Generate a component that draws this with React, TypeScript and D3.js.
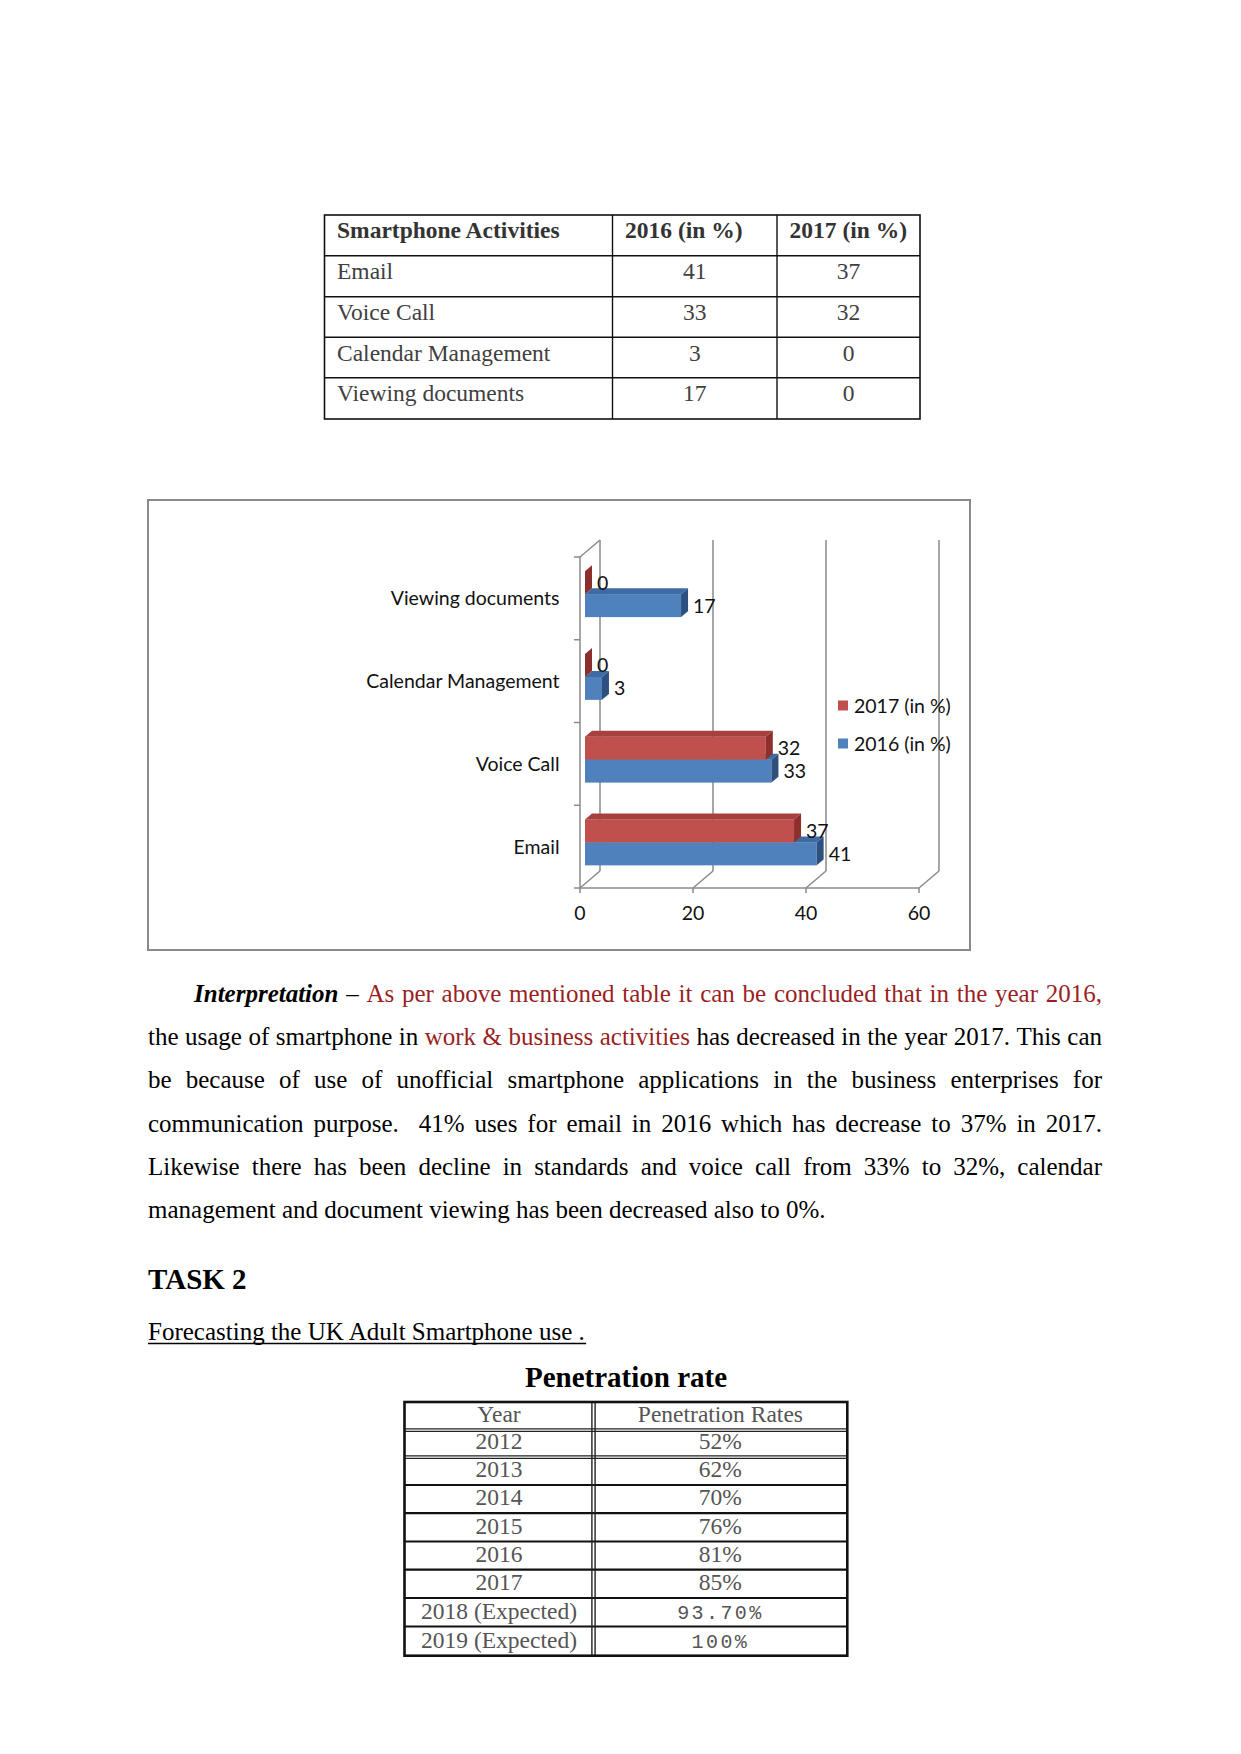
import React from "react";
import * as d3 from "d3";

// ---------- data ----------
const activities = ["Email", "Voice Call", "Calendar Management", "Viewing documents"];
const values2016 = [41, 33, 3, 17];
const values2017 = [37, 32, 0, 0];
const seriesNames = ["2017 (in %)", "2016 (in %)"];
const xTicks = [0, 20, 40, 60];
const tableHeader = ["Smartphone Activities", "2016 (in %)", "2017 (in %)"];

const years = ["2012", "2013", "2014", "2015", "2016", "2017", "2018 (Expected)", "2019 (Expected)"];
const rates = ["52%", "62%", "70%", "76%", "81%", "85%", "93.70%", "100%"];

const RED = "#9A1F1F";
type Seg = { t: string; c?: string; f?: string };
const paraLines: Seg[][] = [
  [
    { t: "Interpretation", f: "bi" },
    { t: " – " },
    { t: "As per above mentioned table it can be concluded that in the year 2016,", c: RED },
  ],
  [
    { t: "the usage of smartphone in " },
    { t: "work & business activities", c: RED },
    { t: " has decreased in the year 2017. This can" },
  ],
  [{ t: "be because of use of unofficial smartphone applications in the business enterprises for" }],
  [{ t: "communication purpose.  41% uses for email in 2016 which has decrease to 37% in 2017." }],
  [{ t: "Likewise there has been decline in standards and voice call from 33% to 32%, calendar" }],
  [{ t: "management and document viewing has been decreased also to 0%." }],
];

const SERIF = "'Liberation Serif', 'Times New Roman', serif";
const SANS = "Lato, 'Open Sans', sans-serif";

let _ctx: CanvasRenderingContext2D | null = null;
function measure(text: string, font: string) {
  if (!_ctx) _ctx = document.createElement("canvas").getContext("2d");
  _ctx!.font = font;
  return _ctx!.measureText(text).width;
}

function Paragraph() {
  const size = 25;
  const left = 148;
  const right = 1102;
  const firstIndent = 194;
  const base0 = 1001.7;
  const lh = 43.3;
  const out: JSX.Element[] = [];
  paraLines.forEach((segs, li) => {
    const words: { t: string; c: string; f: string }[] = [];
    segs.forEach((s) => {
      const parts = s.t.split(" ");
      parts.forEach((p, i) => {
        if (i > 0) words.push({ t: " ", c: "", f: "" });
        if (p.length) words.push({ t: p, c: s.c || "#000", f: s.f || "" });
      });
    });
    const fontOf = (f: string) => `${f === "bi" ? "italic bold " : ""}${size}px ${SERIF}`;
    const x0 = li === 0 ? firstIndent : left;
    const justify = li < paraLines.length - 1;
    let wordsW = 0;
    let gaps = 0;
    words.forEach((w) => {
      if (w.t === " ") gaps++;
      else wordsW += measure(w.t, fontOf(w.f));
    });
    const spaceW = measure(" ", fontOf(""));
    const gapW = justify ? (right - x0 - wordsW) / gaps : spaceW;
    let x = x0;
    const y = base0 + li * lh;
    words.forEach((w, wi) => {
      if (w.t === " ") {
        x += gapW;
        return;
      }
      out.push(
        <text
          key={`${li}-${wi}`}
          x={x}
          y={y}
          fontFamily={SERIF}
          fontSize={size}
          fontStyle={w.f === "bi" ? "italic" : "normal"}
          fontWeight={w.f === "bi" ? "bold" : "normal"}
          fill={w.c}
        >
          {w.t}
        </text>
      );
      x += measure(w.t, fontOf(w.f));
    });
  });
  return <g>{out}</g>;
}

function Table1() {
  const xs = [324.5, 612.5, 777, 920];
  const ys = [215, 255.7, 296.7, 337.3, 377.7, 419];
  const rows = activities.map((a, i) => [a, String(values2016[i]), String(values2017[i])]);
  const txt = "#404040";
  return (
    <g>
      <rect x={xs[0]} y={ys[0]} width={xs[3] - xs[0]} height={ys[5] - ys[0]} fill="none" stroke="#111" strokeWidth={1.6} />
      {ys.slice(1, -1).map((y, i) => (
        <line key={"h" + i} x1={xs[0]} x2={xs[3]} y1={y} y2={y} stroke="#111" strokeWidth={1.4} />
      ))}
      {xs.slice(1, -1).map((x, i) => (
        <line key={"v" + i} x1={x} x2={x} y1={ys[0]} y2={ys[5]} stroke="#111" strokeWidth={1.4} />
      ))}
      {tableHeader.map((h, i) => (
        <text key={"th" + i} x={xs[i] + 12.5} y={238} fontFamily={SERIF} fontSize={23.5} fontWeight="bold" fill="#333">
          {h}
        </text>
      ))}
      {rows.map((r, ri) => (
        <g key={"r" + ri}>
          <text x={xs[0] + 12.5} y={ys[ri + 1] + 23.5} fontFamily={SERIF} fontSize={23.5} fill={txt}>
            {r[0]}
          </text>
          <text x={(xs[1] + xs[2]) / 2} y={ys[ri + 1] + 23.5} textAnchor="middle" fontFamily={SERIF} fontSize={23.5} fill={txt}>
            {r[1]}
          </text>
          <text x={(xs[2] + xs[3]) / 2} y={ys[ri + 1] + 23.5} textAnchor="middle" fontFamily={SERIF} fontSize={23.5} fill={txt}>
            {r[2]}
          </text>
        </g>
      ))}
    </g>
  );
}

function BarChart() {
  const D = { x: 20, y: -17 }; // full depth vector
  const fb = 0.25;
  const fd = 0.35;
  const x = d3.scaleLinear().domain([0, 60]).range([580, 919]);
  const yOrder = activities.slice().reverse();
  const y = d3.scaleBand<string>().domain(yOrder).range([557, 888]).padding(0);
  const inner = d3.scaleBand<string>().domain(seriesNames).range([0, y.bandwidth()]).paddingInner(0).paddingOuter(0.8);
  const grid = "#8a8a8a";
  const colors = {
    "2017 (in %)": { front: "#C0504D", top: "#A7413E", side: "#8C2F2D" },
    "2016 (in %)": { front: "#4F81BD", top: "#3E6BA4", side: "#2D507E" },
  } as Record<string, { front: string; top: string; side: string }>;
  const bdx = D.x * fd;
  const bdy = D.y * fd;
  const ox = D.x * fb;
  const oy = D.y * fb;
  const fs = 19.5;

  const bars: JSX.Element[] = [];
  const labels: JSX.Element[] = [];
  activities.forEach((a, ai) => {
    ["2016 (in %)", "2017 (in %)"].forEach((s) => {
      const v = s === "2016 (in %)" ? values2016[ai] : values2017[ai];
      const c = colors[s];
      const x0 = x(0) + ox;
      const x1 = x(v) + ox;
      const y0 = (y(a) as number) + (inner(s) as number) + oy;
      const h = inner.bandwidth();
      const y1 = y0 + h;
      const key = `${ai}-${s}`;
      if (v > 0) {
        bars.push(<rect key={key + "f"} x={x0} y={y0} width={x1 - x0} height={h} fill={c.front} />);
        bars.push(
          <path
            key={key + "t"}
            d={`M${x0},${y0}L${x1},${y0}L${x1 + bdx},${y0 + bdy}L${x0 + bdx},${y0 + bdy}Z`}
            fill={c.top}
          />
        );
      }
      bars.push(
        <path
          key={key + "s"}
          d={`M${x1},${y0}L${x1 + bdx},${y0 + bdy}L${x1 + bdx},${y1 + bdy}L${x1},${y1}Z`}
          fill={c.side}
        />
      );
      labels.push(
        <text key={key + "l"} x={x1 + bdx + 5} y={(y0 + y1) / 2 + 7} fontFamily={SANS} fontSize={fs} fill="#111">
          {v}
        </text>
      );
    });
  });

  const yTop = 557;
  const yBot = 888;
  return (
    <g>
      <rect x={148} y={500} width={822} height={450} fill="#fff" stroke="#8a8a8a" strokeWidth={2} />
      {xTicks.map((t) => (
        <g key={"g" + t}>
          <line x1={x(t) + D.x} x2={x(t) + D.x} y1={yTop + D.y} y2={yBot + D.y} stroke={grid} strokeWidth={1.5} />
          <line x1={x(t)} x2={x(t) + D.x} y1={yBot} y2={yBot + D.y} stroke={grid} strokeWidth={1.5} />
          <line x1={x(t)} x2={x(t)} y1={yBot} y2={yBot + 5} stroke={grid} strokeWidth={1.5} />
          <text x={x(t)} y={920} textAnchor="middle" fontFamily={SANS} fontSize={fs} fill="#111">
            {t}
          </text>
        </g>
      ))}
      <line x1={x(0)} x2={x(0)} y1={yTop} y2={yBot} stroke={grid} strokeWidth={1.5} />
      <line x1={x(0)} x2={x(0) + D.x} y1={yTop} y2={yTop + D.y} stroke={grid} strokeWidth={1.5} />
      <line x1={x(0)} x2={x(60)} y1={yBot} y2={yBot} stroke={grid} strokeWidth={1.5} />
      {[0, 1, 2, 3, 4].map((i) => (
        <line
          key={"ct" + i}
          x1={x(0) - 6}
          x2={x(0)}
          y1={yTop + i * y.bandwidth()}
          y2={yTop + i * y.bandwidth()}
          stroke={grid}
          strokeWidth={1.5}
        />
      ))}
      {activities.map((a) => (
        <text
          key={"cl" + a}
          x={559.5}
          y={(y(a) as number) + y.bandwidth() / 2 + 7}
          textAnchor="end"
          fontFamily={SANS}
          fontSize={fs}
          fill="#111"
        >
          {a}
        </text>
      ))}
      {bars}
      {labels}
      {seriesNames.map((s, i) => (
        <g key={"lg" + s}>
          <rect x={838} y={700.5 + i * 38} width={10} height={10} fill={colors[s].front} />
          <text x={854} y={712.5 + i * 38} fontFamily={SANS} fontSize={fs} fill="#111">
            {s}
          </text>
        </g>
      ))}
    </g>
  );
}

function Table2() {
  const x0 = 404.5;
  const x1 = 847.3;
  const xm = 593.5;
  const top = 1402;
  const rowYs = [1430, 1457, 1485, 1513.2, 1541.5, 1569.7, 1598, 1626.5, 1655.7];
  const ys = [top, ...rowYs];
  const txt = "#555";
  return (
    <g>
      {rowYs.slice(0, -1).map((y, i) =>
        i < 2 ? (
          <g key={"d" + i}>
            <line x1={x0} x2={x1} y1={y - 1.2} y2={y - 1.2} stroke="#222" strokeWidth={1.2} />
            <line x1={x0} x2={x1} y1={y + 1.4} y2={y + 1.4} stroke="#222" strokeWidth={1.2} />
          </g>
        ) : (
          <line key={"s" + i} x1={x0} x2={x1} y1={y} y2={y} stroke="#111" strokeWidth={2.2} />
        )
      )}
      <line x1={xm - 1.6} x2={xm - 1.6} y1={top} y2={rowYs[8]} stroke="#222" strokeWidth={1.4} />
      <line x1={xm + 1.6} x2={xm + 1.6} y1={top} y2={rowYs[8]} stroke="#222" strokeWidth={1.4} />
      <rect x={x0} y={top} width={x1 - x0} height={rowYs[8] - top} fill="none" stroke="#111" strokeWidth={2.6} />
      <text x={(x0 + xm) / 2} y={ys[1] - 8.3} textAnchor="middle" fontFamily={SERIF} fontSize={23.5} fill={txt}>
        Year
      </text>
      <text x={(xm + x1) / 2} y={ys[1] - 8.3} textAnchor="middle" fontFamily={SERIF} fontSize={23.5} fill={txt}>
        Penetration Rates
      </text>
      {years.map((yr, i) => (
        <g key={"yr" + i}>
          <text x={(x0 + xm) / 2} y={ys[i + 2] - 8} textAnchor="middle" fontFamily={SERIF} fontSize={23.5} fill={txt}>
            {yr}
          </text>
          {i < 6 ? (
            <text x={(xm + x1) / 2} y={ys[i + 2] - 8} textAnchor="middle" fontFamily={SERIF} fontSize={23.5} fill={txt}>
              {rates[i]}
            </text>
          ) : (
            <text
              x={(xm + x1) / 2}
              y={ys[i + 2] - 7.5}
              textAnchor="middle"
              fontFamily="'Liberation Mono', 'DejaVu Sans Mono', monospace"
              fontSize={20}
              letterSpacing={2.4}
              fill={txt}
            >
              {rates[i]}
            </text>
          )}
        </g>
      ))}
    </g>
  );
}

export default function App() {
  const forecast = "Forecasting the UK Adult Smartphone use .";
  const fw = typeof document !== "undefined" ? measure(forecast, `25px ${SERIF}`) : 437;
  return (
    <svg
      width={1241}
      height={1754}
      viewBox="0 0 1241 1754"
      style={{ position: "absolute", left: 0, top: 0, background: "#fff" }}
    >
      <rect x={0} y={0} width={1241} height={1754} fill="#fff" />
      <Table1 />
      <BarChart />
      <Paragraph />
      <text x={148} y={1289.3} fontFamily={SERIF} fontSize={29} fontWeight="bold" fill="#000">
        TASK 2
      </text>
      <text x={148} y={1340} fontFamily={SERIF} fontSize={25} fill="#000">
        {forecast}
      </text>
      <line x1={148} x2={148 + fw} y1={1343.5} y2={1343.5} stroke="#000" strokeWidth={1.5} />
      <text x={626} y={1386.7} textAnchor="middle" fontFamily={SERIF} fontSize={29} fontWeight="bold" fill="#000">
        Penetration rate
      </text>
      <Table2 />
    </svg>
  );
}
